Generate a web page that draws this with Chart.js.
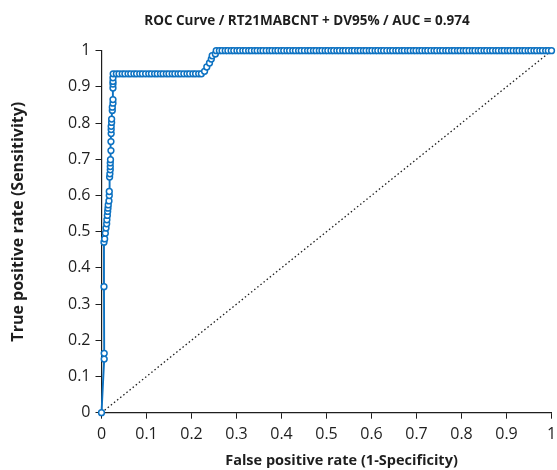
<!DOCTYPE html>
<html>
<head>
<meta charset="utf-8">
<script src="https://cdn.jsdelivr.net/npm/chart.js@4.4.1/dist/chart.umd.min.js"></script>
<style>
  html, body { margin: 0; padding: 0; background: #fff; }
  #wrap { width: 557px; height: 470px; }
</style>
</head>
<body>
<div id="wrap"><canvas id="rocChart"></canvas></div>
<script>
// steep rise near x = 0
var steepFpr = [0, 0.006, 0.006, 0.0055, 0.0055, 0.007, 0.0085, 0.010, 0.0115, 0.012, 0.013, 0.0137, 0.0144, 0.015, 0.0166,
  0.0173, 0.0173, 0.018, 0.0187, 0.0195, 0.0195, 0.0195, 0.020, 0.021, 0.021, 0.0215, 0.0215, 0.0215, 0.0225, 0.0225,
  0.024, 0.024, 0.0255, 0.0255, 0.0255, 0.0255, 0.0255, 0.0255];
var steepTpr = [0, 0.148, 0.164, 0.348, 0.471, 0.480, 0.496, 0.510, 0.522, 0.533, 0.545, 0.556, 0.565, 0.574, 0.585,
  0.600, 0.611, 0.651, 0.660, 0.671, 0.680, 0.690, 0.699, 0.724, 0.749, 0.771, 0.782, 0.791, 0.802, 0.811,
  0.835, 0.844, 0.855, 0.865, 0.897, 0.908, 0.915, 0.925];

// first plateau
var lowPlateauTpr = 0.936;
var lowPlateauFpr = [0.026, 0.033, 0.039, 0.046, 0.052, 0.059, 0.065, 0.072, 0.078, 0.085, 0.091, 0.098, 0.105, 0.111,
  0.118, 0.124, 0.131, 0.137, 0.144, 0.150, 0.157, 0.163, 0.170, 0.176, 0.183, 0.190, 0.196, 0.203, 0.209, 0.216, 0.222];

// second rise
var riseFpr = [0.229, 0.234, 0.240, 0.244, 0.246, 0.253];
var riseTpr = [0.943, 0.955, 0.966, 0.977, 0.986, 0.991];

// top plateau
var topPlateauTpr = 1;
var topPlateauFpr = [0.255, 0.262, 0.268, 0.275, 0.281, 0.288, 0.294, 0.301, 0.307, 0.314, 0.320, 0.327, 0.333, 0.340,
  0.346, 0.353, 0.359, 0.366, 0.373, 0.379, 0.386, 0.392, 0.399, 0.405, 0.412, 0.418, 0.425, 0.431, 0.438, 0.444,
  0.451, 0.458, 0.464, 0.471, 0.477, 0.484, 0.490, 0.497, 0.503, 0.510, 0.516, 0.523, 0.529, 0.536, 0.542, 0.549,
  0.556, 0.562, 0.569, 0.575, 0.582, 0.588, 0.595, 0.601, 0.608, 0.614, 0.621, 0.627, 0.634, 0.641, 0.647, 0.654,
  0.660, 0.667, 0.673, 0.680, 0.686, 0.693, 0.699, 0.706, 0.712, 0.719, 0.725, 0.732, 0.739, 0.745, 0.752, 0.758,
  0.765, 0.771, 0.778, 0.784, 0.791, 0.797, 0.804, 0.810, 0.817, 0.824, 0.830, 0.837, 0.843, 0.850, 0.856, 0.863,
  0.869, 0.876, 0.882, 0.889, 0.895, 0.902, 0.908, 0.915, 0.922, 0.928, 0.935, 0.941, 0.948, 0.954, 0.961, 0.967,
  0.974, 0.980, 0.987, 0.993, 1.0];

var diagX = [0, 1];
var diagY = [0, 1];

var xTickLabels = ["0", "0.1", "0.2", "0.3", "0.4", "0.5", "0.6", "0.7", "0.8", "0.9", "1"];
var yTickLabels = ["0", "0.1", "0.2", "0.3", "0.4", "0.5", "0.6", "0.7", "0.8", "0.9", "1"];

var xTitle = "False positive rate (1-Specificity)";
var yTitle = "True positive rate (Sensitivity)";

var rocPoints = [];
steepFpr.forEach(function (x, i) { rocPoints.push({x: x, y: steepTpr[i]}); });
lowPlateauFpr.forEach(function (x) { rocPoints.push({x: x, y: lowPlateauTpr}); });
riseFpr.forEach(function (x, i) { rocPoints.push({x: x, y: riseTpr[i]}); });
topPlateauFpr.forEach(function (x) { rocPoints.push({x: x, y: topPlateauTpr}); });

var diagPoints = diagX.map(function (x, i) { return {x: x, y: diagY[i]}; });

var blue = "#0d72c2";
var ink = "#1e1e1e";
var fontFamily = "'Open Sans', 'Noto Sans', sans-serif";

// the original's titles sit a bit off the plot centre, so place them by hand
var titlePlacer = {
  id: "titlePlacer",
  afterLayout: function (chart) {
    if (chart.titleBlock) chart.titleBlock.left = 57;
  },
  afterDraw: function (chart) {
    var ctx = chart.ctx, area = chart.chartArea;
    ctx.save();
    ctx.fillStyle = ink;
    ctx.textAlign = "center";
    ctx.textBaseline = "middle";
    ctx.font = "bold 14.5px " + fontFamily;
    ctx.fillText(xTitle, (area.left + area.right) / 2 + 15, 461);
    ctx.translate(18.5, (area.top + area.bottom) / 2 - 10);
    ctx.rotate(-Math.PI / 2);
    ctx.font = "bold 16px " + fontFamily;
    ctx.fillText(yTitle, 0, 0);
    ctx.restore();
  }
};

new Chart("rocChart", {
  type: "scatter",
  data: {
    datasets: [{
      data: rocPoints,
      showLine: true,
      borderColor: blue,
      borderWidth: 1.9,
      pointRadius: 2.9,
      pointBorderWidth: 1.5,
      pointBackgroundColor: "#fff",
      pointBorderColor: blue,
      clip: false,
      order: 1
    }, {
      data: diagPoints,
      showLine: true,
      borderColor: ink,
      borderWidth: 1.3,
      borderDash: [1.5, 2.5],
      pointRadius: 0,
      clip: false,
      order: 2
    }]
  },
  options: {
    responsive: true,
    maintainAspectRatio: false,
    animation: false,
    layout: {padding: 0},
    plugins: {
      legend: {display: false},
      tooltip: {enabled: false},
      title: {
        display: true,
        text: "ROC Curve / RT21MABCNT + DV95% / AUC = 0.974",
        color: ink,
        font: {family: fontFamily, size: 13.5, weight: "bold"},
        padding: {top: 13.5, bottom: 21}
      }
    },
    scales: {
      x: {
        type: "linear",
        min: 0,
        max: 1,
        afterFit: function (s) { s.height = 57.3; s.paddingRight = 3.5; },
        grid: {drawOnChartArea: false, drawTicks: true, tickLength: 6, color: ink},
        border: {display: true, color: ink, width: 1.2},
        ticks: {
          stepSize: 0.1,
          autoSkip: false,
          maxRotation: 0,
          padding: 6.5,
          color: ink,
          font: {family: fontFamily, size: 16},
          callback: function (v, i) { return xTickLabels[i]; }
        }
      },
      y: {
        type: "linear",
        min: 0,
        max: 1,
        afterFit: function (s) { s.width = 101.5; },
        grid: {drawOnChartArea: false, drawTicks: true, tickLength: 6, color: ink},
        border: {display: true, color: ink, width: 1.2},
        ticks: {
          stepSize: 0.1,
          autoSkip: false,
          padding: 5,
          color: ink,
          font: {family: fontFamily, size: 16},
          callback: function (v, i) { return yTickLabels[i]; }
        }
      }
    }
  },
  plugins: [titlePlacer]
});
</script>
</body>
</html>
